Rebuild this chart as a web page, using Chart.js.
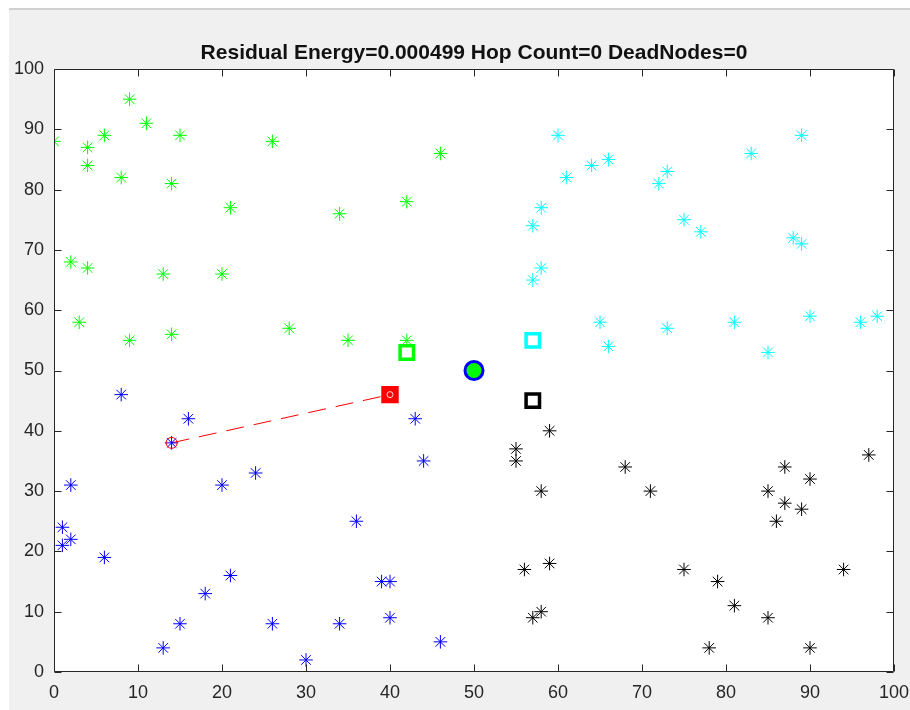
<!DOCTYPE html>
<html>
<head>
<meta charset="utf-8">
<script src="https://cdn.jsdelivr.net/npm/chart.js@4/dist/chart.umd.min.js"></script>
<style>
html,body{margin:0;padding:0;background:#fff;}
#wrap{width:910px;height:710px;}
</style>
</head>
<body>
<div id="wrap"><canvas id="c" width="910" height="710"></canvas></div>
<script>
// ---- data ----
const titleText = 'Residual Energy=0.000499 Hop Count=0 DeadNodes=0';
const axisTicks = [0,10,20,30,40,50,60,70,80,90,100];

const greenX = [0,9,11,6,15,4,4,26,46,8,14,21,34,42,2,4,13,20,3,9,14,28,35,42];
const greenY = [88,95,91,89,89,87,84,88,86,82,81,77,76,78,68,67,66,66,58,55,56,57,55,55];

const cyanX = [60,89,83,66,64,61,73,72,58,57,75,77,88,89,58,57,65,66,73,81,85,90,96,98];
const cyanY = [89,89,86,85,84,82,83,81,77,74,75,73,72,71,67,65,58,54,57,58,53,59,58,59];

const blueX = [8,16,14,43,44,2,20,24,36,1,2,1,6,21,18,39,40,40,15,26,34,13,30,46];
const blueY = [46,42,38,42,35,31,31,33,25,24,22,21,19,16,13,15,15,9,8,8,8,4,2,5];

const blackX = [59,55,55,58,68,71,85,87,90,87,89,86,97,56,59,75,94,79,81,85,58,57,78,90];
const blackY = [40,37,35,30,34,30,30,34,32,28,27,25,36,17,18,17,17,15,11,9,10,9,4,4];

const headGreen = {x:42, y:53};
const headCyan  = {x:57, y:55};
const headRed   = {x:40, y:46};
const headBlack = {x:57, y:45};
const sink      = {x:50, y:50};
const source    = {x:14, y:38};
const routeX = [14, 40];
const routeY = [38, 46];

const pts = (xs, ys) => xs.map((x, i) => ({x, y: ys[i]}));

const FONT = "'Liberation Sans', Arial, Helvetica, sans-serif";

const starSet = (xs, ys, color) => ({
  data: pts(xs, ys), pointStyle: 'star', pointRadius: 6.8, borderColor: color,
  backgroundColor: color, pointBorderWidth: 1, showLine: false
});
const headSet = (p, color, r, w, bg) => ({
  data: [p], pointStyle: 'rect', pointRadius: r, pointBorderWidth: w,
  borderColor: color, backgroundColor: bg || 'rgba(0,0,0,0)', showLine: false
});

const frame = {
  id: 'frame',
  beforeDraw(chart) {
    const c = chart.ctx, a = chart.chartArea;
    c.save();
    c.fillStyle = '#ffffff'; c.fillRect(0, 0, 910, 710);
    c.fillStyle = '#f0f0f0'; c.fillRect(9, 10, 901, 700);
    c.fillStyle = '#d0d0d0'; c.fillRect(9, 8, 901, 2);
    c.fillStyle = '#ffffff'; c.fillRect(a.left, a.top, a.right - a.left, a.bottom - a.top);
    c.fillStyle = '#111111';
    c.font = "bold 21px " + FONT;
    c.textAlign = 'center'; c.textBaseline = 'middle';
    c.fillText(titleText, (a.left + a.right) / 2, 53);
    c.restore();
  },
  afterDatasetsDraw(chart) {
    const c = chart.ctx, a = chart.chartArea, xs = chart.scales.x, ys = chart.scales.y;
    c.save();
    c.strokeStyle = '#262626'; c.lineWidth = 1;
    const L = Math.round(a.left) + 0.5, R = Math.round(a.right) - 0.5;
    const T = Math.round(a.top) + 0.5, B = Math.round(a.bottom) - 0.5;
    c.beginPath();
    c.rect(L, T, R - L, B - T);
    const tl = 7;
    xs.ticks.forEach(t => {
      const p = Math.round(xs.getPixelForValue(t.value)) + 0.5;
      c.moveTo(p, B); c.lineTo(p, B - tl);
      c.moveTo(p, T); c.lineTo(p, T + tl);
    });
    ys.ticks.forEach(t => {
      const p = Math.round(ys.getPixelForValue(t.value)) + 0.5;
      c.moveTo(L, p); c.lineTo(L + tl, p);
      c.moveTo(R, p); c.lineTo(R - tl, p);
    });
    c.stroke();
    c.restore();
  }
};

new Chart(document.getElementById('c'), {
  type: 'scatter',
  data: {
    datasets: [
      {data: [sink], pointStyle: 'circle', pointRadius: 9, pointBorderWidth: 3,
       borderColor: '#0000ff', backgroundColor: '#00ff00'},
      {data: [headRed], pointStyle: 'circle', pointRadius: 3, pointBorderWidth: 1,
       borderColor: 'rgba(255,255,255,0.85)', backgroundColor: 'rgba(0,0,0,0)'},
      headSet(headRed, '#ff0000', 9.5, 4, '#ff0000'),
      headSet(headGreen, '#00ff00', 9.5, 3.5),
      headSet(headCyan, '#00ffff', 9.5, 3.5),
      headSet(headBlack, '#000000', 9.5, 3.5),
      {data: [source], pointStyle: 'circle', pointRadius: 5.5, pointBorderWidth: 1,
       borderColor: '#ff0000', backgroundColor: 'rgba(0,0,0,0)'},
      starSet(greenX, greenY, '#00ff00'),
      starSet(cyanX, cyanY, '#00ffff'),
      starSet(blueX, blueY, '#0000ff'),
      starSet(blackX, blackY, '#000000'),
      {data: pts(routeX, routeY), showLine: true, borderColor: '#ff0000', borderWidth: 1,
       borderDash: [18, 10], pointRadius: 0, fill: false}
    ]
  },
  options: {
    responsive: false,
    animation: false,
    events: [],
    layout: {padding: {left: 0, right: 16, top: 69, bottom: 0}},
    plugins: {
      legend: {display: false},
      tooltip: {enabled: false},
      title: {display: false}
    },
    scales: {
      x: {
        type: 'linear', min: 0, max: 100,
        afterBuildTicks: s => { s.ticks = axisTicks.map(v => ({value: v})); },
        ticks: {color: '#262626', font: {family: FONT, size: 18}, padding: 10, maxRotation: 0},
        grid: {display: false, drawTicks: false},
        border: {display: false},
        afterFit: s => { s.height = 38; s.paddingLeft = 0; s.paddingRight = 0; }
      },
      y: {
        type: 'linear', min: 0, max: 100,
        afterBuildTicks: s => { s.ticks = axisTicks.map(v => ({value: v})); },
        ticks: {color: '#262626', font: {family: FONT, size: 18}, padding: 10},
        grid: {display: false, drawTicks: false},
        border: {display: false},
        afterFit: s => { s.width = 54; s.paddingTop = 0; s.paddingBottom = 0; }
      }
    }
  },
  plugins: [frame]
});
</script>
</body>
</html>
